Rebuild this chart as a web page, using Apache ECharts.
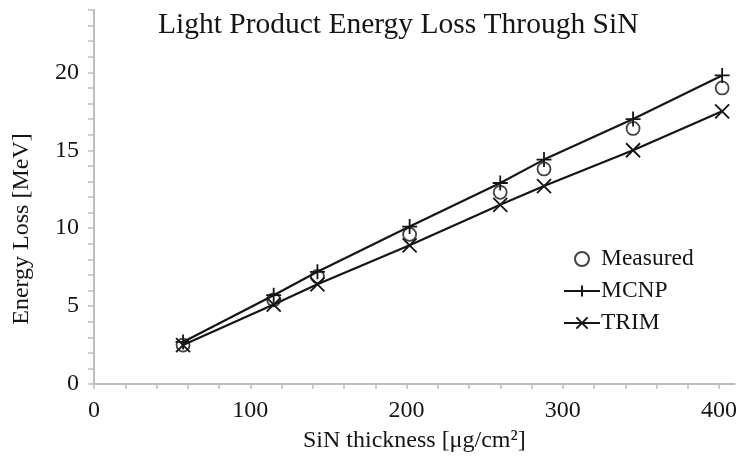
<!DOCTYPE html>
<html>
<head>
<meta charset="utf-8">
<script src="https://cdn.jsdelivr.net/npm/echarts@6/dist/echarts.min.js"></script>
<style>
  html, body { margin: 0; padding: 0; background: #fff; }
  #chart { width: 740px; height: 462px; }
</style>
</head>
<body>
<div id="chart"></div>
<script>
// SiN foil thickness [ug/cm2]
const thickness = [57, 115, 143, 202, 260, 288, 345, 402];
// Energy loss [MeV]
const measured = [2.5, 5.4, 6.9, 9.6, 12.3, 13.8, 16.4, 19.0];
const mcnp     = [2.7, 5.7, 7.2, 10.1, 12.9, 14.4, 17.0, 19.8];
const trim     = [2.5, 5.1, 6.4, 8.9, 11.5, 12.7, 15.0, 17.5];

const xLabels = [0, 100, 200, 300, 400];
const yLabels = [0, 5, 10, 15, 20];

const ink = '#151515';
const axisGray = '#bdbdbd';
const serif = 'Liberation Serif';

const plusSymbol = 'path://M0,-1L0,1M-1,0L1,0';
const crossSymbol = 'path://M-1,-1L1,1M-1,1L1,-1';

const pairs = (ys) => thickness.map((x, i) => [x, ys[i]]);

const xTicks = [];
for (let v = 0; v <= 400; v += 20) xTicks.push(v);
const yTicks = [];
for (let v = 0; v <= 24; v += 1) yTicks.push(v);

const chart = echarts.init(document.getElementById('chart'), null, { renderer: 'canvas' });
chart.setOption({
  animation: false,
  backgroundColor: '#fff',
  title: {
    text: 'Light Product Energy Loss Through SiN',
    left: 153,
    top: 5,
    textStyle: { fontFamily: serif, fontWeight: 'normal', fontSize: 29.5, color: ink }
  },
  grid: { left: 94, right: 5, top: 10, bottom: 78 },
  legend: {
    orient: 'vertical',
    left: 558,
    top: 242,
    itemWidth: 36,
    itemHeight: 14,
    itemGap: 8,
    textStyle: { fontFamily: serif, fontSize: 23.5, color: ink, padding: [0, 0, 0, -4] },
    data: ['Measured', 'MCNP', 'TRIM']
  },
  xAxis: {
    type: 'value',
    min: 0,
    max: 410,
    interval: 100,
    name: 'SiN thickness [μg/cm²]',
    nameLocation: 'middle',
    nameGap: 45,
    nameTextStyle: { fontFamily: serif, fontSize: 24, color: ink },
    axisLine: { show: true, lineStyle: { color: axisGray, width: 2 } },
    axisTick: { show: true, length: 5, customValues: xTicks, lineStyle: { color: axisGray, width: 1.5 } },
    axisLabel: { customValues: xLabels, margin: 15, fontFamily: serif, fontSize: 24, color: ink },
    splitLine: { show: false }
  },
  yAxis: {
    type: 'value',
    min: 0,
    max: 24,
    interval: 5,
    name: 'Energy Loss [MeV]',
    nameLocation: 'middle',
    nameGap: 60,
    // the title sits a little below the middle of the axis
    nameTextStyle: { fontFamily: serif, fontSize: 24, color: ink, padding: [0, 64, 0, 0] },
    axisLine: { show: true, lineStyle: { color: axisGray, width: 2 } },
    axisTick: { show: true, length: 6, customValues: yTicks, lineStyle: { color: axisGray, width: 1.5 } },
    axisLabel: { customValues: yLabels, margin: 15, fontFamily: serif, fontSize: 24, color: ink },
    splitLine: { show: false }
  },
  series: [
    {
      name: 'Measured',
      type: 'scatter',
      data: pairs(measured),
      symbol: 'circle',
      symbolSize: 13,
      itemStyle: { color: 'rgba(255,255,255,0)', borderColor: ink, borderWidth: 1.8 },
      z: 3
    },
    {
      name: 'MCNP',
      type: 'line',
      data: pairs(mcnp),
      symbol: plusSymbol,
      symbolSize: 15,
      showAllSymbol: true,
      lineStyle: { color: ink, width: 2.2 },
      itemStyle: { color: 'rgba(255,255,255,0)', borderColor: ink, borderWidth: 1.8 }
    },
    {
      name: 'TRIM',
      type: 'line',
      data: pairs(trim),
      symbol: crossSymbol,
      symbolSize: 14,
      showAllSymbol: true,
      lineStyle: { color: ink, width: 2.2 },
      itemStyle: { color: 'rgba(255,255,255,0)', borderColor: ink, borderWidth: 1.8 }
    }
  ]
});
</script>
</body>
</html>
